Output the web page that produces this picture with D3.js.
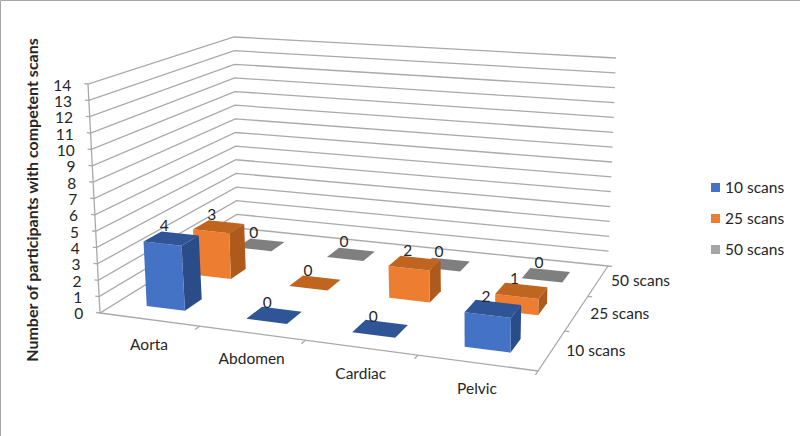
<!DOCTYPE html>
<html>
<head>
<meta charset="utf-8">
<style>
  body { margin: 0; background: #fff; }
  text { font-family: Lato, "Open Sans", sans-serif; fill: #262626; }
  .grid { fill: none; stroke: #a9a9a9; stroke-width: 1.3; }
</style>
<script src="https://cdn.jsdelivr.net/npm/d3@7"></script>
</head>
<body>
<script>
var categories = ['Aorta', 'Abdomen', 'Cardiac', 'Pelvic'];
var seriesNames = ['10 scans', '25 scans', '50 scans'];
var scans10 = [4, 0, 0, 2];
var scans25 = [3, 0, 2, 1];
var scans50 = [0, 0, 0, 0];
var valueTicks = d3.range(0, 15);

var width = 800,
    height = 436,
    maxValue = 14,
    fontSize = 15.5;

var colors = {
    '10 scans': {front: '#4472c4', top: '#2f5597', side: '#2a4d8a'},
    '25 scans': {front: '#ed7d31', top: '#c0651f', side: '#ae5a1c'},
    '50 scans': {front: '#a5a5a5', top: '#7f7f7f', side: '#6e6e6e'}
};

var svg = d3.select('body').append('svg')
    .attr('width', width)
    .attr('height', height);

// Projection: floor and top of the chart box are two homographies, walls go between them.
var floorH = homography([[100, 313], [538, 371], [608, 266], [237, 228]]);
var topH = homography([[88, 84], [545, 121], [616, 58], [234, 37]]);

// unit square to quad (Heckbert)
function homography(q) {
    var dx1 = q[1][0] - q[2][0], dx2 = q[3][0] - q[2][0], sx = q[0][0] - q[1][0] + q[2][0] - q[3][0],
        dy1 = q[1][1] - q[2][1], dy2 = q[3][1] - q[2][1], sy = q[0][1] - q[1][1] + q[2][1] - q[3][1],
        det = dx1 * dy2 - dx2 * dy1,
        g = (sx * dy2 - dx2 * sy) / det,
        h = (dx1 * sy - sx * dy1) / det;
    return function(u, v) {
        var a = q[1][0] - q[0][0] + g * q[1][0],
            b = q[3][0] - q[0][0] + h * q[3][0],
            d = q[1][1] - q[0][1] + g * q[1][1],
            e = q[3][1] - q[0][1] + h * q[3][1],
            w = g * u + h * v + 1;
        return [(a * u + b * v + q[0][0]) / w, (d * u + e * v + q[0][1]) / w];
    };
}

var xs = d3.scaleBand().domain(categories).range([0, 1]);
var zs = d3.scaleBand().domain(seriesNames).range([0, 1]);
var ys = d3.scaleLinear().domain([0, maxValue]).range([0, 1]);

function project(u, v, value) {
    var t = ys(value),
        a = floorH(u, v),
        b = topH(u, v);
    return [a[0] + (b[0] - a[0]) * t, a[1] + (b[1] - a[1]) * t];
}

var line = d3.line();

// walls
var wallEl = svg.append('g');
valueTicks.forEach(function(d) {
    wallEl.append('path')
        .classed('grid', true)
        .attr('d', line([project(-0.01, 0, d), project(0, 0, d), project(0, 1, d), project(1, 1, d)]));
});
wallEl.append('path')
    .classed('grid', true)
    .attr('d', line([project(0, 0, 0), project(0, 0, maxValue)]));

// floor edges and tick marks
wallEl.append('path')
    .classed('grid', true)
    .attr('d', line([project(0, 0, 0), project(1, 0, 0), project(1, 1, 0)]));
categories.forEach(function(c, i) {
    wallEl.append('path')
        .classed('grid', true)
        .attr('d', line([project((i + 1) / 4, 0, 0), project((i + 1) / 4, -0.03, 0)]));
});
seriesNames.forEach(function(s, i) {
    wallEl.append('path')
        .classed('grid', true)
        .attr('d', line([project(1, (i + 1) / 3, 0), project(1.01, (i + 1) / 3, 0)]));
});

// value labels on the axis
svg.append('g').selectAll('text')
    .data(valueTicks)
    .enter()
    .append('text')
    .attr('text-anchor', 'end')
    .attr('font-size', fontSize)
    .attr('x', function(d) { return project(-0.01, 0, d)[0] - 13; })
    .attr('y', function(d) { return project(-0.01, 0, d)[1] + 7; })
    .text(function(d) { return d; });

// bars, back row first and left to right
var rows = [
    {name: '50 scans', values: scans50},
    {name: '25 scans', values: scans25},
    {name: '10 scans', values: scans10}
];
var barsEl = svg.append('g'),
    labelsEl = svg.append('g');
var barW = 0.39,
    barD = 0.35;

rows.forEach(function(row) {
    categories.forEach(function(c, i) {
        var value = row.values[i],
            u0 = xs(c) + xs.bandwidth() * (1 - barW) / 2,
            u1 = u0 + xs.bandwidth() * barW,
            v0 = zs(row.name) + zs.bandwidth() * (1 - barD) / 2,
            v1 = v0 + zs.bandwidth() * barD,
            col = colors[row.name];
        if (value > 0) {
            barsEl.append('path').attr('fill', col.side)
                .attr('d', line([project(u1, v0, 0), project(u1, v1, 0), project(u1, v1, value), project(u1, v0, value)]) + 'Z');
            barsEl.append('path').attr('fill', col.front)
                .attr('d', line([project(u0, v0, 0), project(u1, v0, 0), project(u1, v0, value), project(u0, v0, value)]) + 'Z');
        }
        barsEl.append('path').attr('fill', col.top)
            .attr('d', line([project(u0, v0, value), project(u1, v0, value), project(u1, v1, value), project(u0, v1, value)]) + 'Z');
        var p = project((u0 + u1) / 2, (v0 + v1) / 2, value);
        labelsEl.append('text')
            .attr('text-anchor', 'middle')
            .attr('font-size', fontSize)
            .attr('x', p[0] - 7)
            .attr('y', p[1] - 7)
            .text(value);
    });
});

// category labels
svg.append('g').selectAll('text')
    .data(categories)
    .enter()
    .append('text')
    .attr('text-anchor', 'middle')
    .attr('font-size', fontSize)
    .attr('x', function(d) { return project(xs(d) + xs.bandwidth() / 2, 0, 0)[0]; })
    .attr('y', function(d) { return project(xs(d) + xs.bandwidth() / 2, 0, 0)[1] + 31; })
    .text(function(d) { return d; });

// depth labels
svg.append('g').selectAll('text')
    .data(seriesNames)
    .enter()
    .append('text')
    .attr('font-size', fontSize)
    .attr('x', function(d) { return project(1.03, zs(d) + zs.bandwidth() / 2, 0)[0]; })
    .attr('y', function(d) { return project(1.03, zs(d) + zs.bandwidth() / 2, 0)[1] + 4; })
    .text(function(d) { return d; });

// axis title
svg.append('text')
    .attr('transform', 'translate(38,200) rotate(-90)')
    .attr('text-anchor', 'middle')
    .attr('font-size', 16)
    .attr('font-weight', 'bold')
    .text('Number of participants with competent scans');

// legend
var legendEl = svg.append('g').selectAll('g')
    .data(seriesNames)
    .enter()
    .append('g')
    .attr('transform', function(d, i) { return 'translate(711,' + (183 + 31 * i) + ')'; });
legendEl.append('rect')
    .attr('width', 9)
    .attr('height', 9)
    .attr('fill', function(d) { return colors[d].front; });
legendEl.append('text')
    .attr('x', 14)
    .attr('y', 9.5)
    .attr('font-size', fontSize)
    .text(function(d) { return d; });

// frame of the original picture
svg.append('path')
    .attr('d', 'M0.5,436V0.5H800')
    .attr('stroke', '#a6a6a6')
    .attr('fill', 'none');
</script>
</body>
</html>
